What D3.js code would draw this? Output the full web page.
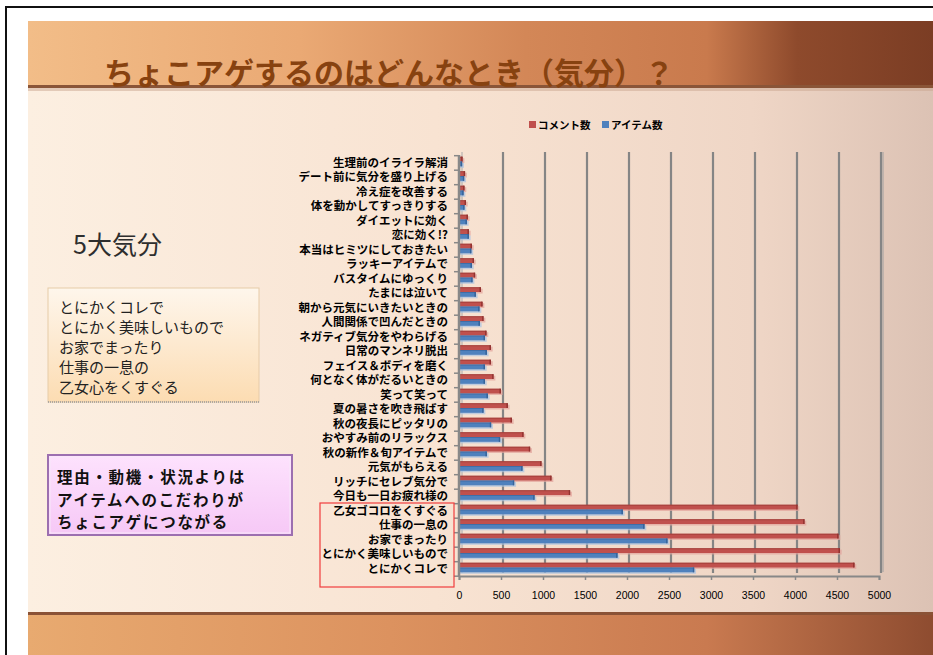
<!DOCTYPE html>
<html>
<head>
<meta charset="utf-8">
<script src="https://cdn.jsdelivr.net/npm/d3@7"></script>
<style>
  body { margin: 0; background: #fff; }
  svg { display: block; }
  text { font-family: "Noto Sans CJK JP", "Noto Sans", sans-serif; }
</style>
</head>
<body>
<div id="chart"></div>
<script>
// categories, top to bottom as they appear on the slide
const categories = [
  "生理前のイライラ解消", "デート前に気分を盛り上げる", "冷え症を改善する", "体を動かしてすっきりする",
  "ダイエットに効く", "恋に効く!?", "本当はヒミツにしておきたい", "ラッキーアイテムで",
  "バスタイムにゆっくり", "たまには泣いて", "朝から元気にいきたいときの", "人間関係で凹んだときの",
  "ネガティブ気分をやわらげる", "日常のマンネリ脱出", "フェイス＆ボディを磨く", "何となく体がだるいときの",
  "笑って笑って", "夏の暑さを吹き飛ばす", "秋の夜長にピッタリの", "おやすみ前のリラックス",
  "秋の新作＆旬アイテムで", "元気がもらえる", "リッチにセレブ気分で", "今日も一日お疲れ様の",
  "乙女ゴコロをくすぐる", "仕事の一息の", "お家でまったり", "とにかく美味しいもので", "とにかくコレで"
];
const comments = [40, 70, 63, 80, 103, 115, 151, 175, 190, 258, 278, 290, 325, 377, 377, 409,
  496, 579, 627, 766, 845, 980, 1099, 1321, 4028, 4111, 4516, 4532, 4706];
const items = [35, 60, 52, 63, 91, 115, 145, 151, 159, 198, 242, 246, 306, 329, 306, 306,
  341, 290, 381, 488, 329, 754, 655, 897, 1948, 2206, 2480, 1885, 2798];
const xTicks = [0, 500, 1000, 1500, 2000, 2500, 3000, 3500, 4000, 4500, 5000];
const seriesNames = ["コメント数", "アイテム数"];
const title = "ちょこアゲするのはどんなとき（気分）？";
const topFiveLines = ["とにかくコレで", "とにかく美味しいもので", "お家でまったり", "仕事の一息の", "乙女心をくすぐる"];
const noteLines = ["理由・動機・状況よりは", "アイテムへのこだわりが", "ちょこアゲにつながる"];

const width = 933, height = 655;
const svg = d3.select("#chart").append("svg")
  .attr("width", width).attr("height", height);

const defs = svg.append("defs");
function grad(id, stops, x2 = "100%", y2 = "0%") {
  const g = defs.append("linearGradient").attr("id", id)
    .attr("x1", "0%").attr("y1", "0%").attr("x2", x2).attr("y2", y2);
  stops.forEach(([o, c]) => g.append("stop").attr("offset", o).attr("stop-color", c));
}
grad("bodyBg", [["0%", "#fcefe1"], ["45%", "#f8e3d2"], ["80%", "#efd6c6"], ["100%", "#dcc2b4"]]);
grad("headBg", [["0%", "#f2bd88"], ["30%", "#eaa974"], ["55%", "#d38757"], ["75%", "#c97a4d"], ["85%", "#8e4a2c"], ["100%", "#7b3d24"]]);
grad("footBg", [["0%", "#e8aa70"], ["40%", "#dc925f"], ["75%", "#c97a50"], ["100%", "#8e4c30"]]);
grad("box1", [["0%", "#fef6ec"], ["100%", "#fcdcb2"]], "0%", "100%");
grad("box2", [["0%", "#fde2fd"], ["100%", "#f6c8f6"]], "0%", "100%");

// frame + slide
svg.append("line").attr("x1", 6).attr("x2", width).attr("y1", 7).attr("y2", 7)
  .attr("stroke", "#111").attr("stroke-width", 2);
svg.append("line").attr("x1", 6).attr("x2", 6).attr("y1", 6).attr("y2", height)
  .attr("stroke", "#111").attr("stroke-width", 2);
svg.append("rect").attr("x", 28).attr("y", 21).attr("width", width - 28).attr("height", height - 21)
  .attr("fill", "url(#bodyBg)");
svg.append("rect").attr("x", 28).attr("y", 21).attr("width", width - 28).attr("height", 65)
  .attr("fill", "url(#headBg)");
svg.append("rect").attr("x", 28).attr("y", 85).attr("width", width - 28).attr("height", 3)
  .attr("fill", "#8a5538");
svg.append("rect").attr("x", 28).attr("y", 88).attr("width", width - 28).attr("height", 3)
  .attr("fill", "#c9a690").attr("opacity", 0.5);
svg.append("rect").attr("x", 28).attr("y", 612).attr("width", width - 28).attr("height", height - 612)
  .attr("fill", "url(#footBg)");
svg.append("rect").attr("x", 28).attr("y", 612).attr("width", width - 28).attr("height", 3)
  .attr("fill", "#8a5236");

svg.append("text").attr("x", 104).attr("y", 84)
  .attr("fill", "#874210").style("font-size", "30px").style("font-weight", 700)
  .text(title);

// left panel
svg.append("text").attr("x", 73).attr("y", 254)
  .attr("fill", "#2e2e2e").style("font-size", "25px")
  .text("5大気分");

svg.append("rect").attr("x", 48).attr("y", 288).attr("width", 211).attr("height", 114)
  .attr("fill", "url(#box1)").attr("stroke", "#e6cba8").attr("stroke-width", 1);
svg.append("line").attr("x1", 48).attr("x2", 259).attr("y1", 402).attr("y2", 402)
  .attr("stroke", "#999").attr("stroke-width", 1.5).attr("stroke-dasharray", "1,1");
svg.append("text").attr("fill", "#222").style("font-size", "15px")
  .selectAll("tspan").data(topFiveLines).join("tspan")
  .attr("x", 59).attr("y", (d, i) => 313 + i * 20)
  .text(d => d);

svg.append("rect").attr("x", 48).attr("y", 455).attr("width", 244).attr("height", 80)
  .attr("fill", "url(#box2)").attr("stroke", "#9c6fb0").attr("stroke-width", 2);
svg.append("rect").attr("x", 50).attr("y", 457).attr("width", 240).attr("height", 76)
  .attr("fill", "none").attr("stroke", "#f8e8fa").attr("stroke-width", 1);
svg.append("text").attr("fill", "#111").style("font-size", "15.5px").style("font-weight", 700)
  .style("letter-spacing", "1.7px")
  .selectAll("tspan").data(noteLines).join("tspan")
  .attr("x", 57).attr("y", (d, i) => 483 + i * 22.5)
  .text(d => d);

// chart
const x = d3.scaleLinear().domain([0, 5000]).range([459, 879]);
const y = d3.scaleBand().domain(categories).range([155.7, 576.2]);
const sub = d3.scaleBand().domain(seriesNames).range([1, 10.6]);
const colors = { "コメント数": "#c0504d", "アイテム数": "#4f81bd" };
const dark = { "コメント数": "#93322f", "アイテム数": "#35639a" };

// back wall edge + gridlines
svg.append("g").selectAll("line").data(xTicks.slice(1)).join("line")
  .attr("x1", d => x(d) + 2).attr("x2", d => x(d) + 2)
  .attr("y1", 152).attr("y2", 573)
  .attr("stroke", "#858585").attr("stroke-width", 2.2);
svg.append("line").attr("x1", 883).attr("x2", 883).attr("y1", 152).attr("y2", 572)
  .attr("stroke", "#a0a0a0").attr("stroke-width", 1);
svg.append("line").attr("x1", 462).attr("x2", 462).attr("y1", 152).attr("y2", 573)
  .attr("stroke", "#aaa").attr("stroke-width", 1);

// bars
const rows = categories.map((c, i) => ({ cat: c, values: [
  { s: seriesNames[0], v: comments[i] }, { s: seriesNames[1], v: items[i] }] }));

const groups = svg.append("g").selectAll("g").data(rows).join("g")
  .attr("transform", d => `translate(0,${y(d.cat)})`);

groups.selectAll("rect.shadow").data(d => d.values).join("rect")
  .attr("class", "shadow")
  .attr("x", x(0) + 1).attr("y", d => sub(d.s) + 1.5)
  .attr("width", d => x(d.v) - x(0) + 1).attr("height", sub.bandwidth())
  .attr("fill", d => d.s === seriesNames[0] ? "#e3a39b" : "#a9c3e3").attr("opacity", 0.7);
groups.selectAll("rect.bar").data(d => d.values).join("rect")
  .attr("class", "bar")
  .attr("x", x(0)).attr("y", d => sub(d.s))
  .attr("width", d => x(d.v) - x(0)).attr("height", sub.bandwidth())
  .attr("fill", d => colors[d.s]);
groups.selectAll("rect.top").data(d => d.values).join("rect")
  .attr("class", "top")
  .attr("x", x(0)).attr("y", d => sub(d.s))
  .attr("width", d => x(d.v) - x(0)).attr("height", 1)
  .attr("fill", d => dark[d.s]).attr("opacity", 0.6);
groups.selectAll("rect.cap").data(d => d.values).join("rect")
  .attr("class", "cap")
  .attr("x", d => x(d.v) - 1.2).attr("y", d => sub(d.s))
  .attr("width", 1.5).attr("height", sub.bandwidth())
  .attr("fill", d => dark[d.s]);

// category axis
svg.append("line").attr("x1", 459).attr("x2", 459).attr("y1", 155).attr("y2", 577)
  .attr("stroke", "#888").attr("stroke-width", 2.5);
svg.append("g").selectAll("line").data(categories.concat([null])).join("line")
  .attr("x1", 454).attr("x2", 459)
  .attr("y1", (d, i) => 155.7 + i * y.step()).attr("y2", (d, i) => 155.7 + i * y.step())
  .attr("stroke", "#888").attr("stroke-width", 1.5);
svg.append("g").selectAll("text").data(categories).join("text")
  .attr("x", 448).attr("y", d => y(d) + y.bandwidth() / 2 + 4)
  .attr("text-anchor", "end").attr("fill", "#000")
  .style("font-size", "11.5px").style("font-weight", 700)
  .text(d => d);

// value axis
const xAxis = d3.axisBottom(x).tickValues(xTicks).tickFormat(d3.format("d"))
  .tickSize(4).tickPadding(12);
const ax = svg.append("g").attr("transform", "translate(0,576)").call(xAxis);
ax.select(".domain").attr("stroke", "#888").attr("stroke-width", 2);
ax.selectAll(".tick line").attr("stroke", "#888").attr("stroke-width", 1.5);
ax.selectAll(".tick text").attr("fill", "#000")
  .style("font-family", "'Liberation Sans Narrow', 'Liberation Sans', sans-serif")
  .style("font-size", "10.5px");

// highlight box
svg.append("rect").attr("x", 320).attr("y", 503).attr("width", 134).attr("height", 84)
  .attr("fill", "none").attr("stroke", "#f03c3c").attr("stroke-width", 1.2);

// legend
const legend = svg.append("g").attr("transform", "translate(529,121)");
const legendX = [0, 73];
seriesNames.forEach((s, i) => {
  legend.append("rect").attr("x", legendX[i]).attr("y", 0).attr("width", 7).attr("height", 7)
    .attr("fill", colors[s]);
  legend.append("text").attr("x", legendX[i] + 9).attr("y", 8)
    .attr("fill", "#000").style("font-size", "10.5px").style("font-weight", 700)
    .text(s);
});
</script>
</body>
</html>
